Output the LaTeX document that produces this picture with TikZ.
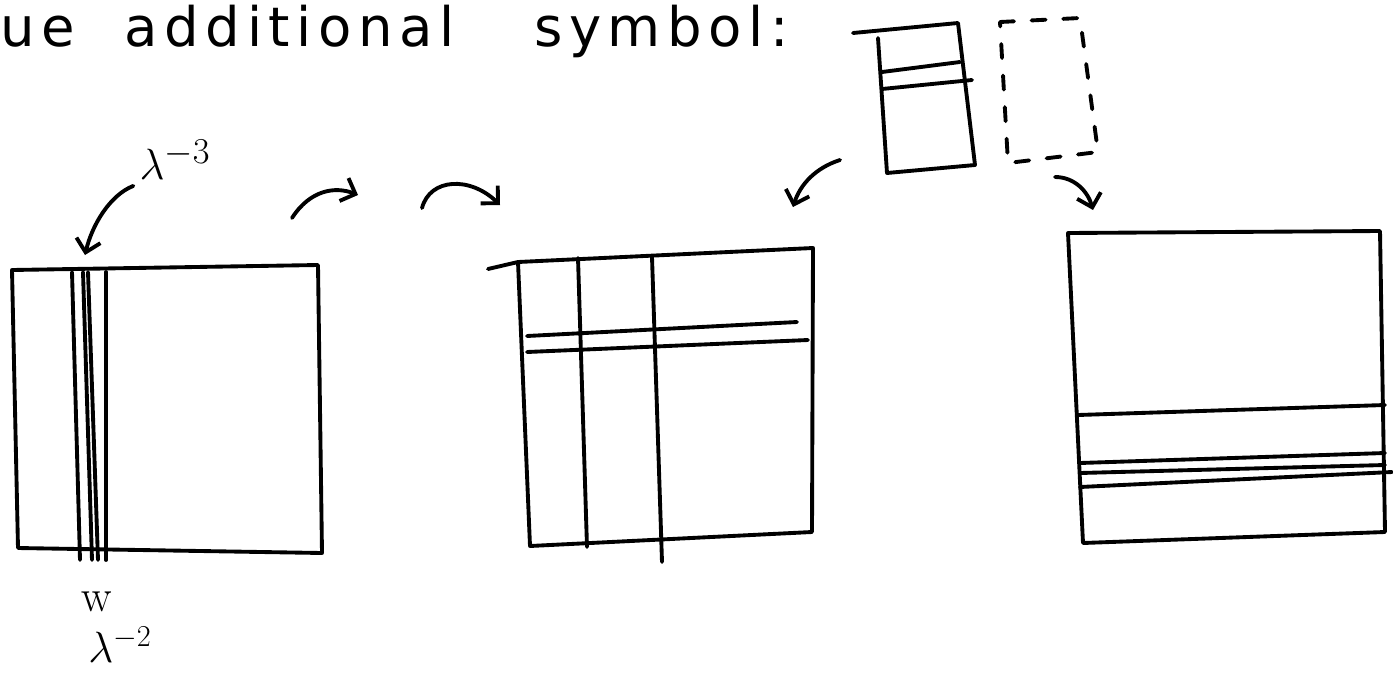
\documentclass[tikz,border=0pt]{standalone}
\usepackage{amsmath}
\usepackage{fontspec}
\usepackage{tikz}
\usetikzlibrary{arrows.meta}

\newfontfamily\handfont[LetterSpace=12]{DejaVu Sans}

\tikzset{
  pen/.style={line width=2.2pt, line cap=round, line join=round},
  penarrow/.style={pen, -{Straight Barb[length=7pt,width=14pt]}},
  dashpen/.style={pen, dash pattern=on 8pt off 10pt},
}

\begin{document}
\begin{tikzpicture}[x=0.02cm, y=-0.02cm]
	\clip (0,0) rectangle (1393,680);
	
	% heading line
	\node[anchor=base west, inner sep=0, font=\handfont\fontsize{31}{31}\selectfont] (note) at (0,46) {ue\hspace{1.0cm}additional\hspace{1.6cm}symbol:};
	
	% left block with the thin strips
	\draw[pen] (12,270) -- (318,265) -- (322,553) -- (18,548) -- cycle;
	\foreach \xa/\xb in {72/80, 83/92, 88/98, 106/106} {
		\draw[pen] (\xa,272) -- (\xb,560);
	}
	\node[font=\fontsize{28}{28}\selectfont] (lamthree) at (175,160) {$\lambda^{-3}$};
	\coordinate (stripstop) at (85,255);
	\draw[penarrow] (lamthree.south west) .. controls (110,195) and (92,225) .. (stripstop);
	\node[font=\fontsize{26}{26}\selectfont] (wmark) at (97,602) {w};
	\node[font=\fontsize{27}{27}\selectfont] (lamtwo) at (120,645) {$\lambda^{-2}$};
	
	% arrows between left and middle block
	\coordinate (hopa) at (292,218);
	\coordinate (hopb) at (358,195);
	\coordinate (hopc) at (422,208);
	\coordinate (hopd) at (500,205);
	\draw[penarrow] (hopa) .. controls (310,190) and (335,186) .. (hopb);
	\draw[penarrow] (hopc) .. controls (430,178) and (470,176) .. (hopd);
	
	% middle block
	\draw[pen] (488,269) -- (518,262) -- (813,248) -- (812,532) -- (530,546) -- (518,262);
	\draw[pen] (578,258) -- (587,547);
	\draw[pen] (652,257) -- (662,562);
	\draw[pen] (527,336) -- (797,322);
	\draw[pen] (527,352) -- (808,340);
	
	% small block and dashed block on top
	\draw[pen] (853,33) -- (958,23) -- (975,165) -- (887,173) -- (878,38);
	\draw[pen] (882,72) -- (960,62);
	\draw[pen] (882,89) -- (972,80);
	\draw[dashpen] (1000,22) -- (1080,18) -- (1098,152) -- (1008,163) -- cycle;
	\coordinate (smallout) at (840,160);
	\coordinate (midin) at (793,207);
	\coordinate (dashout) at (1055,177);
	\coordinate (rightin) at (1093,210);
	\draw[penarrow] (smallout) .. controls (815,168) and (800,185) .. (midin);
	\draw[penarrow] (dashout) .. controls (1075,177) and (1088,192) .. (rightin);
	
	% right block
	\draw[pen] (1068,233) -- (1380,231) -- (1385,532) -- (1083,543) -- cycle;
	\draw[pen] (1078,415) -- (1385,405);
	\draw[pen] (1080,463) -- (1385,453);
	\draw[pen] (1080,473) -- (1385,465);
	\draw[pen] (1080,487) -- (1392,472);
	
\end{tikzpicture}
\end{document}
